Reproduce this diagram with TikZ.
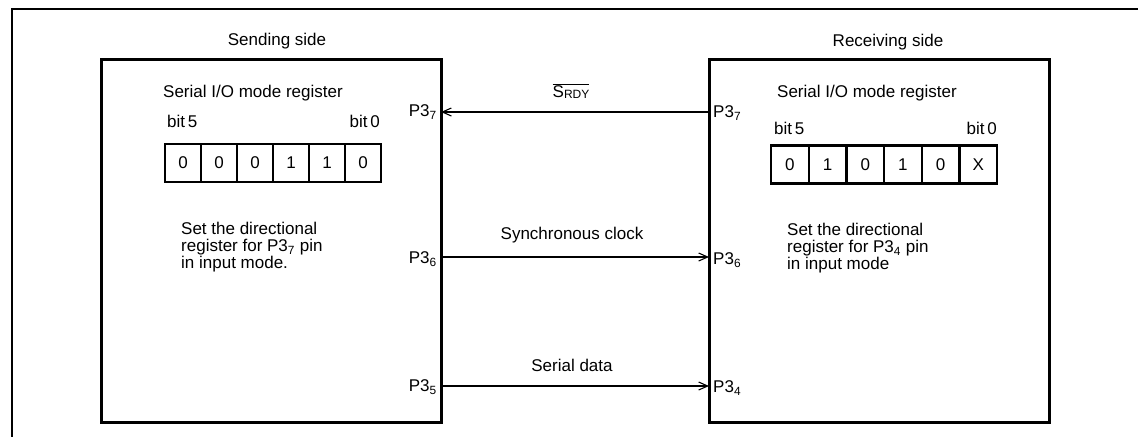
\documentclass[tikz,border=0pt]{standalone}
\usepackage{fontspec}
\setmainfont{Liberation Sans}
\usetikzlibrary{arrows.meta}
\tikzset{
  txt/.style={inner sep=0pt, font=\fontsize{17}{17}\selectfont},
  sidebox/.style={draw, line width=3pt, minimum width=340pt, minimum height=363pt, inner sep=0pt, outer sep=0pt},
  cell/.style={draw, line width=2.2pt, minimum height=38pt, inner sep=0pt, outer sep=0pt, font=\fontsize{17}{17}\selectfont},
  sig/.style={line width=1.1pt, -{Straight Barb[length=9pt,width=8pt,line width=1.1pt]}},
  frame/.style={line width=2pt}
}
\begin{document}
\begin{tikzpicture}[x=1pt,y=-1pt]
\useasboundingbox (0,0) rectangle (1138,437);
% outer frame
\coordinate (ftl) at (12,9);
\coordinate (ftr) at (1138,9);
\coordinate (fbl) at (12,437);
\draw[frame] (ftr) -- (ftl) -- (fbl);

% side boxes
\node[sidebox] (send) at (271,240.5) {};
\node[sidebox] (recv) at (879,240.5) {};
\node[txt] (sendt) at (277,41) {Sending side};
\node[txt] (recvt) at (888,42) {Receiving side};

% sending register
\node[txt, anchor=west] (sregt) at (163,93) {Serial I/O mode register};
\node[txt, anchor=west] (sb5) at (167,121) {bit\,5};
\node[txt, anchor=east] (sb0) at (380,121) {bit\,0};
\foreach \v [count=\i from 0] in {0,0,0,1,1,0}{
  \node[cell, minimum width=36pt] (sc\i) at ({165+18+36*\i},163) {\v};
}
% receiving register
\node[txt, anchor=west] (rregt) at (777,93) {Serial I/O mode register};
\node[txt, anchor=west] (rb5) at (774,128) {bit\,5};
\node[txt, anchor=east] (rb0) at (997,128) {bit\,0};
\foreach \v [count=\i from 0] in {0,1,0,1,0,X}{
  \node[cell, minimum width=37.7pt] (rc\i) at ({771+18.85+37.7*\i},164.5) {\v};
}

% notes
\node[txt, anchor=west, align=left] (snote) at (181,247.5)
  {Set the directional\\register for P3\textsubscript{7} pin\\in input mode.};
\node[txt, anchor=west, align=left] (rnote) at (787,248.5)
  {Set the directional\\register for P3\textsubscript{4} pin\\in input mode};

% pin labels
\node[txt, anchor=east] (sp7) at (437,112) {P3\textsubscript{7}};
\node[txt, anchor=east] (sp6) at (437,259) {P3\textsubscript{6}};
\node[txt, anchor=east] (sp5) at (437,387) {P3\textsubscript{5}};
\node[txt, anchor=west] (rp7) at (713,113) {P3\textsubscript{7}};
\node[txt, anchor=west] (rp6) at (713,260) {P3\textsubscript{6}};
\node[txt, anchor=west] (rp4) at (713,388) {P3\textsubscript{4}};

% pin points on the box edges
\coordinate (s7) at (send.east |- 0,112);
\coordinate (r7) at (recv.west |- 0,112);
\coordinate (s6) at (send.east |- 0,257);
\coordinate (r6) at (recv.west |- 0,257);
\coordinate (s5) at (send.east |- 0,386);
\coordinate (r4) at (recv.west |- 0,386);

% connectors
\draw[sig] (r7) -- (s7);
\draw[sig] (s6) -- (r6);
\draw[sig] (s5) -- (r4);

% connector labels
\node[txt] (srdy) at (571,91) {$\overline{\hbox{S\raisebox{-1.5pt}{\fontsize{12}{12}\selectfont RDY}}}$};
\node[txt] (sclk) at (572,235) {Synchronous clock};
\node[txt] (sdat) at (572,365) {Serial data};
\end{tikzpicture}
\end{document}
